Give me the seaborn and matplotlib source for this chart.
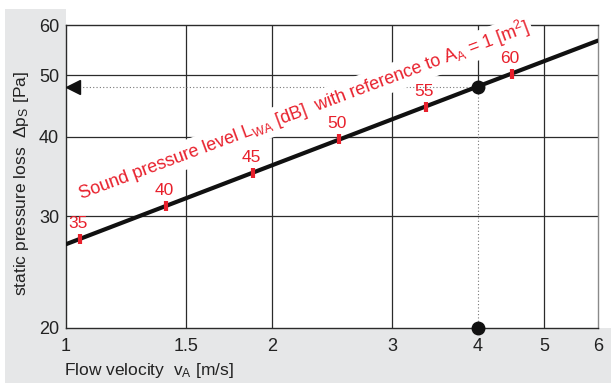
import numpy as np
import pandas as pd
import matplotlib
matplotlib.use("Agg")
import matplotlib.pyplot as plt
import matplotlib.transforms as mtransforms
from matplotlib.patches import Rectangle
from matplotlib.ticker import FixedLocator, NullLocator
import seaborn as sns

# characteristic line (flow velocity vs static pressure loss)
V_LINE = [1.0, 4.0, 6.0]
P_LINE = [27.1, 48.0, 56.7]

# sound pressure level marks along the line
SPL = [35, 40, 45, 50, 55, 60]
V_SPL = [1.05, 1.40, 1.88, 2.51, 3.36, 4.49]
P_SPL = [27.6, 31.1, 35.1, 39.7, 44.6, 50.3]

# operating point
V_OP = 4.0
P_OP = 48.0

X_TICKS = [1, 1.5, 2, 3, 4, 5, 6]
X_TICKLABELS = ["1", "1.5", "2", "3", "4", "5", "6"]
Y_TICKS = [20, 30, 40, 50, 60]
Y_TICKLABELS = ["20", "30", "40", "50", "60"]
GRID_X = [1.5, 2, 3, 5]
GRID_Y = [30, 40, 50]

RED = "#e8202c"
GREY_BAND = "#e6e7e8"
DARK = "#2b2b2b"

sns.set_theme(style="white")
plt.rcParams["font.family"] = ["Liberation Sans", "DejaVu Sans"]
plt.rcParams["mathtext.default"] = "regular"

fig = plt.figure(figsize=(6.11, 3.83), dpi=100)
W, H = 611, 383

# grey label bands
fig.patches.append(Rectangle((5 / W, 0), 61 / W, (H - 9) / H, transform=fig.transFigure,
                             facecolor=GREY_BAND, edgecolor="none", zorder=-1))
fig.patches.append(Rectangle((5 / W, 0), (W - 5) / W, 55 / H, transform=fig.transFigure,
                             facecolor=GREY_BAND, edgecolor="none", zorder=-1))

ax = fig.add_axes([66 / W, 55 / H, 532 / W, 303 / H])
ax.set_facecolor("white")
ax.set_xscale("log")
ax.set_yscale("log")
ax.set_xlim(1, 6)
ax.set_ylim(20, 60)

ax.xaxis.set_major_locator(FixedLocator(X_TICKS))
ax.xaxis.set_minor_locator(NullLocator())
ax.yaxis.set_major_locator(FixedLocator(Y_TICKS))
ax.yaxis.set_minor_locator(NullLocator())
ax.set_xticklabels(X_TICKLABELS)
ax.set_yticklabels(Y_TICKLABELS)
ax.tick_params(axis="both", length=0, labelsize=13, labelcolor="#222222")
ax.tick_params(axis="x", pad=7)
ax.tick_params(axis="y", pad=5)

for s in ["left", "top", "bottom"]:
    ax.spines[s].set_color(DARK)
    ax.spines[s].set_linewidth(1.0)
ax.spines["right"].set_color("#8a8a8a")
ax.spines["right"].set_linewidth(1.0)

# grid
ax.vlines(GRID_X, 20, 60, colors=DARK, linewidth=0.9, zorder=1)
ax.hlines(GRID_Y, 1, 6, colors=DARK, linewidth=0.9, zorder=1)
ax.vlines([V_OP], P_OP, 60, colors=DARK, linewidth=0.9, zorder=1)

# guide lines to the operating point
ax.plot([1, V_OP], [P_OP, P_OP], linestyle=(0, (1, 2)), color="#777777", linewidth=0.8, zorder=2)
ax.plot([V_OP, V_OP], [20, P_OP], linestyle=(0, (1, 2)), color="#777777", linewidth=0.8, zorder=2)

# main line
df = pd.DataFrame({"v": V_LINE, "p": P_LINE})
sns.lineplot(data=df, x="v", y="p", ax=ax, color="#111111", linewidth=3.0, zorder=4)
ax.set_xlabel("")
ax.set_ylabel("")

# sound level marks
ax.plot(V_SPL, P_SPL, linestyle="none", marker="|", markersize=6.5, markeredgewidth=3,
        color=RED, zorder=5)
for v, p, s in zip(V_SPL, P_SPL, SPL):
    ax.annotate(str(s), (v, p), xytext=(-2, 8), textcoords="offset pixels",
                ha="center", va="bottom", fontsize=12.5, color=RED, zorder=6)

# operating point markers
ax.plot([V_OP], [P_OP], marker="o", markersize=9, color="#111111", zorder=6)
ax.plot([V_OP], [20], marker="o", markersize=9, color="#111111", zorder=6, clip_on=False)
arrow_tr = mtransforms.offset_copy(ax.transData, fig=fig, x=7, y=0, units="dots")
ax.plot([1], [P_OP], marker="<", markersize=10, color="#111111", transform=arrow_tr,
        zorder=6, clip_on=False)

# rotated label along the line
ax.text(2.23, 44.0,
        "Sound pressure level L$_{WA}$ [dB]  with reference to A$_{A}$ = 1 [m$^{2}$]",
        rotation=20.5, rotation_mode="anchor", ha="center", va="center",
        fontsize=13, color=RED, zorder=3,
        bbox=dict(facecolor="white", edgecolor="none", pad=1.5))

# axis labels
fig.text(64 / W, 1 - 371 / H, "Flow velocity  v$_{A}$ [m/s]", ha="left", va="center",
         fontsize=12.5, color="#222222")
fig.text(22 / W, 1 - 184 / H, "static pressure loss  Δp$_{S}$ [Pa]", ha="center", va="center",
         rotation=90, fontsize=12.5, color="#222222")

fig.savefig("out.png", dpi=100)
